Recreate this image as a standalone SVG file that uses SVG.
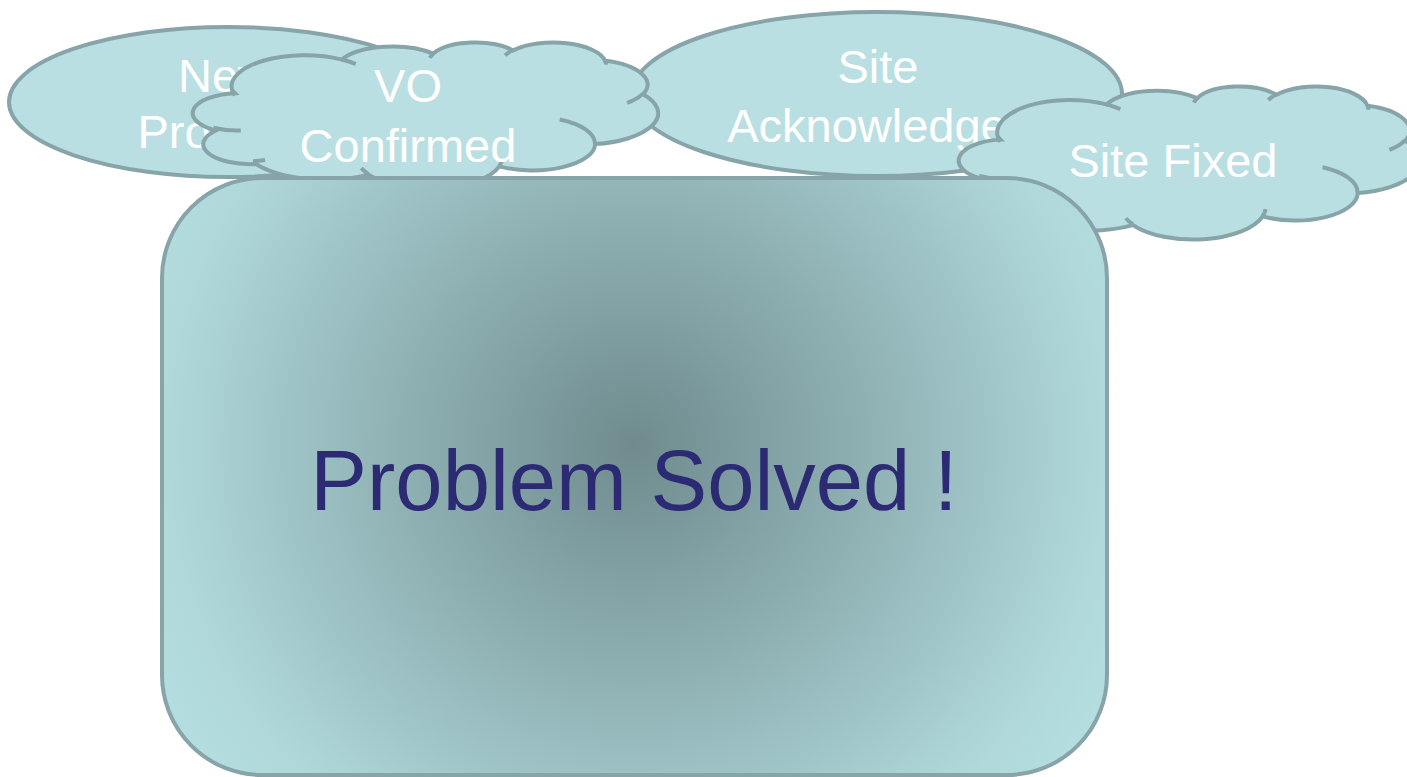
<svg xmlns="http://www.w3.org/2000/svg" width="1407" height="777" viewBox="0 0 1407 777">
<style>
.shape{fill:#B9DFE3;stroke:#87A5A8;stroke-width:4}
.hint{fill:none;stroke:#87A5A8;stroke-width:4}
.lbl{font-family:"Liberation Sans",Arial,sans-serif;font-size:47px;fill:#FFFFFF;text-anchor:middle}
.big{font-family:"Liberation Sans",Arial,sans-serif;font-size:85px;fill:#2B2A73;text-anchor:middle}
</style>
<defs>
<radialGradient id="rg" gradientUnits="userSpaceOnUse" cx="634" cy="445" r="585">
<stop offset="0" stop-color="#6F8B8E"/>
<stop offset="0.55" stop-color="#9BBFC2"/>
<stop offset="0.8" stop-color="#B0D8DB"/>
<stop offset="1" stop-color="#B7E1E4"/>
</radialGradient>
<path id="cloud" vector-effect="non-scaling-stroke" d="M3900,14370 A6753,9190 0 0 1 14005,5202 A5333,7267 0 0 1 22455,3432 A4365,5945 0 0 1 29833,2482 A4857,6595 0 0 1 38317,5578 A5333,7273 0 0 1 41818,15462 A6775,9220 0 0 1 37402,30202 A5785,7867 0 0 1 28554,36812 A6752,9215 0 0 1 16480,39267 A7720,10543 0 0 1 6092,36107 A4360,5918 0 0 1 2401,26185 A4345,5945 0 0 1 4150,15141 Z"/>
<path id="cloudHint" vector-effect="non-scaling-stroke" d="M4693,26177 A4345,5945 0 0 1 2161,25381 M6928,34899 A4360,5918 0 0 1 5820,35281 M16478,39090 A6752,9215 0 0 1 15808,37346 M28827,34751 A6752,9215 0 0 1 28561,36659 M34129,22954 A5785,7867 0 0 1 37381,30090 M41798,15354 A5333,7273 0 0 1 40349,18031 M38324,5426 A4857,6595 0 0 1 38400,6690 M29078,3952 A4857,6595 0 0 1 29821,2339 M22141,4720 A4365,5945 0 0 1 22500,3330 M14000,5192 A6753,9190 0 0 1 15300,6541 M4127,15789 A6753,9190 0 0 1 3900,14370"/>
</defs>
<g id="connectors"/>
<g id="node-new-problem">
<ellipse class="shape" cx="228" cy="102" rx="219" ry="75"/>
<text class="lbl" x="225" y="92">New</text>
<text class="lbl" x="225" y="148">Problem</text>
</g>
<g id="node-site-acknowledged">
<ellipse class="shape" cx="877" cy="94" rx="245" ry="82"/>
<text class="lbl" x="878" y="83">Site</text>
<text class="lbl" x="880" y="142">Acknowledged</text>
</g>
<g id="node-vo-confirmed">
<g transform="translate(190,42) scale(0.010833,0.0033796)">
<use href="#cloud" class="shape"/>
<use href="#cloudHint" class="hint"/>
</g>
<text class="lbl" x="408" y="102">VO</text>
<text class="lbl" x="408" y="162">Confirmed</text>
</g>
<g id="node-site-fixed">
<g transform="translate(956,86) scale(0.010741,0.0035417)">
<use href="#cloud" class="shape"/>
<use href="#cloudHint" class="hint"/>
</g>
<text class="lbl" x="1173" y="177">Site Fixed</text>
</g>
<g id="node-problem-solved">
<rect x="162" y="178" width="945" height="597" rx="100" ry="100" fill="url(#rg)" stroke="#87A5A8" stroke-width="4"/>
<text class="big" x="634" y="510">Problem Solved !</text>
</g>
</svg>
